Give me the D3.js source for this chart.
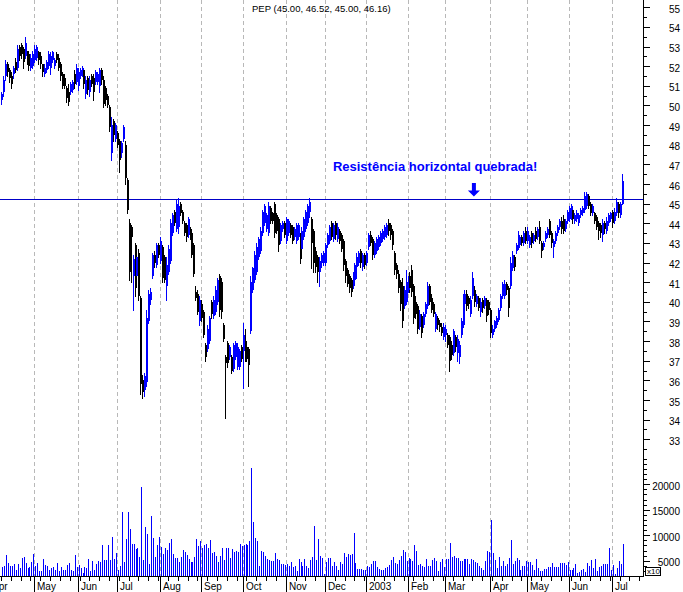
<!DOCTYPE html>
<html><head><meta charset="utf-8">
<script src="https://cdn.jsdelivr.net/npm/d3@7"></script>
<style>body{margin:0;background:#fff}svg{display:block}</style>
</head><body>
<svg id="c" width="683" height="592"></svg>
<script>
// ---------------- DATA ----------------
const ticker = "PEP";
const lastBar = ["45.00", "46.52", "45.00", "46.16"];
const annotationText = "Resistência horizontal quebrada!";
const resistance = 45.24;
const priceTicks = [33,34,35,36,37,38,39,40,41,42,43,44,45,46,47,48,49,50,51,52,53,54,55];
const volumeTicks = [5000,10000,15000,20000];
const monthLabels = ["Apr","May","Jun","Jul","Aug","Sep","Oct","Nov","Dec","2003","Feb","Mar","Apr","May","Jun","Jul"];
const monthIndex  = [-6,17,39,59,81,102,123,145,165,186,207,226,249,268,289,311];

const opens = [
50.3,50.7,51.5,52.1,51.8,51.5,51.6,52.2,51.9,53.0,
53.1,52.9,52.5,52.7,52.6,51.9,52.0,52.3,52.4,52.7,
52.5,52.1,51.6,51.8,52.0,51.9,52.3,52.0,52.6,52.4,
52.1,51.6,51.4,50.9,50.7,50.7,50.8,51.6,51.2,51.0,
51.5,51.6,51.8,50.6,51.4,50.7,51.5,51.4,51.2,51.2,
51.0,51.8,51.3,50.9,50.5,49.9,47.6,49.2,48.3,48.6,
48.2,47.6,48.3,48.0,46.2,44.0,43.8,41.3,42.9,41.3,
42.5,40.2,36.0,35.5,35.9,39.0,40.1,41.3,42.4,41.9,
42.9,42.1,42.8,42.3,40.8,41.5,42.1,43.5,44.6,43.7,
43.8,45.0,44.6,44.0,43.9,43.4,43.7,43.5,42.9,40.5,
40.4,39.0,39.9,39.5,37.8,37.6,38.0,40.0,39.3,39.5,
40.0,41.3,41.0,38.8,37.2,37.9,37.2,37.2,36.6,37.2,
36.7,36.7,37.7,37.5,38.0,37.7,37.6,38.5,40.6,41.1,
41.5,42.3,42.6,43.5,44.0,43.7,43.5,44.8,44.5,45.0,
44.4,44.2,43.1,43.7,44.0,43.1,43.5,43.9,43.8,43.3,
43.1,43.3,43.4,42.7,43.3,43.7,44.0,44.6,44.2,43.6,
42.6,42.3,41.5,42.0,42.0,42.0,42.9,43.1,44.0,43.2,
44.0,43.2,43.6,43.4,43.1,42.1,41.6,41.3,41.1,40.8,
41.1,41.8,42.0,42.6,41.8,42.4,42.0,42.8,43.4,43.2,
42.4,42.6,42.8,43.0,43.2,43.3,43.4,44.0,43.9,43.6,
42.5,41.9,41.4,41.0,40.8,39.8,40.0,40.6,41.3,41.6,
40.8,40.0,39.8,38.7,39.3,38.8,39.4,39.8,40.8,40.2,
39.9,38.6,39.2,38.9,38.7,38.2,38.3,38.3,38.2,37.8,
37.4,38.2,37.4,37.2,38.3,38.8,39.9,40.4,40.2,39.4,
40.3,40.6,39.9,40.2,39.5,40.1,39.8,40.1,40.0,39.6,
38.3,38.6,38.8,39.1,39.7,40.3,40.3,40.9,40.7,40.8,
41.7,42.3,42.6,42.8,42.9,43.3,43.0,43.6,43.1,42.9,
43.5,43.1,43.6,43.3,43.8,43.0,42.8,43.2,43.4,44.1,
43.5,42.8,43.1,43.5,43.8,44.1,44.2,43.7,44.1,44.2,
44.3,44.7,44.1,44.2,44.0,44.4,44.5,44.7,44.9,45.4,
45.0,44.5,44.5,44.3,44.0,43.9,43.4,44.0,43.6,44.0,
44.2,44.6,44.1,44.5,45.0,44.4,45.00];

const highs = [
50.7,51.5,52.3,52.2,51.9,51.7,52.0,52.4,53.1,53.1,
53.2,53.0,53.5,52.8,52.8,52.6,52.8,53.1,53.1,52.8,
52.7,52.1,52.1,52.3,52.8,52.7,52.8,52.4,52.7,52.6,
52.2,51.7,51.6,51.0,51.1,51.2,51.3,51.8,52.1,51.9,
51.9,52.0,51.9,51.5,51.5,51.5,51.6,51.6,51.8,51.7,
51.9,51.9,51.5,51.0,50.6,50.0,49.4,49.3,49.1,48.7,
48.3,48.2,49.0,48.2,46.3,44.2,43.9,42.4,43.0,42.4,
42.7,40.3,36.3,36.4,39.6,40.6,40.7,42.5,42.6,43.0,
43.0,43.3,42.9,42.4,42.3,42.9,44.2,44.5,44.7,45.2,
45.3,45.1,44.7,44.1,44.0,44.3,43.8,43.6,43.0,40.8,
40.6,40.3,40.1,39.6,37.9,38.8,39.3,40.1,40.3,40.8,
41.2,41.4,41.2,38.9,37.3,38.0,37.8,37.3,37.9,38.0,
37.9,37.6,37.8,38.9,38.6,37.8,37.7,41.3,41.8,42.6,
43.0,43.3,43.8,44.7,45.0,44.5,45.1,44.9,44.6,45.1,
44.5,44.3,44.0,44.1,44.1,44.3,44.2,44.0,43.9,43.8,
44.0,44.0,43.5,43.8,44.3,44.7,45.0,45.3,44.3,43.7,
42.8,42.4,42.3,42.5,42.6,43.0,43.5,43.9,44.1,44.0,
44.1,44.0,43.7,43.5,43.2,42.2,41.7,41.4,41.2,41.5,
42.0,42.5,42.6,42.7,42.5,42.5,42.6,43.5,43.6,43.3,
43.1,43.3,43.4,43.6,43.7,43.9,44.0,44.2,44.0,43.7,
42.6,42.0,41.6,41.1,41.2,40.8,41.6,41.3,41.5,41.9,
40.9,40.3,39.9,39.6,39.4,39.5,40.0,41.0,40.9,40.4,
40.0,39.5,39.3,39.1,38.9,38.9,38.8,38.4,38.3,38.0,
38.6,38.3,38.3,38.0,39.2,40.4,40.6,40.6,40.3,40.3,
41.5,40.8,40.4,40.3,40.2,40.2,40.3,40.2,40.1,39.7,
38.8,39.1,39.3,39.7,40.4,41.0,41.1,41.0,40.8,42.3,
42.6,42.4,43.0,43.6,43.4,43.4,43.6,43.8,43.8,43.4,
43.6,43.5,43.8,43.8,44.1,43.1,43.1,43.6,43.8,44.2,
43.6,43.2,43.6,43.9,44.2,44.3,44.4,44.2,44.7,44.9,
45.0,44.8,44.5,44.7,44.5,44.8,44.9,45.6,45.6,45.5,
45.1,45.0,44.6,44.4,44.1,44.0,44.2,44.1,44.3,44.5,
44.6,44.7,44.8,45.3,45.1,45.1,46.52];

const lows = [
50.1,50.5,51.3,51.5,51.2,50.9,51.4,51.7,51.8,52.3,
52.4,51.9,52.4,52.1,51.8,51.8,51.9,52.2,52.3,52.1,
51.9,51.5,51.5,51.7,51.9,51.6,52.2,51.9,52.2,51.8,
51.3,50.9,50.9,50.2,50.0,50.6,50.7,50.9,51.1,50.8,
51.4,51.5,50.9,50.4,50.6,50.5,51.0,50.3,51.1,51.1,
50.7,51.1,49.9,50.0,49.9,48.7,47.2,48.2,48.2,47.9,
46.6,47.4,48.2,46.0,44.5,41.1,41.0,39.6,40.3,41.2,
40.1,35.3,35.1,35.2,35.7,38.9,39.9,41.2,41.8,41.8,
42.3,42.0,41.0,41.0,40.1,41.4,42.0,43.4,43.9,43.6,
43.5,44.4,44.0,43.4,43.1,43.3,43.2,42.3,41.3,40.1,
39.4,38.8,39.0,38.2,37.0,37.5,37.9,39.2,39.2,39.4,
39.9,39.3,39.2,38.0,34.1,36.7,37.1,36.4,36.5,37.1,
36.6,36.6,37.0,35.6,37.0,37.0,35.7,38.4,40.5,41.0,
41.4,42.2,42.5,43.4,43.9,43.6,43.4,44.0,44.0,43.3,
43.5,42.6,43.0,43.6,43.3,43.0,43.4,43.3,43.0,43.2,
43.0,43.2,42.0,42.6,43.2,43.6,43.9,44.3,41.7,41.5,
41.5,41.0,40.8,41.8,41.9,41.9,42.8,43.0,43.2,43.1,
43.2,43.1,43.0,42.6,41.6,41.0,40.8,40.5,40.3,40.7,
41.0,41.2,41.9,41.8,41.6,41.7,41.9,42.7,42.9,42.2,
42.3,42.5,42.7,42.9,43.1,43.2,43.3,43.4,43.2,42.7,
41.4,41.2,40.5,39.6,38.7,39.7,39.9,40.5,40.5,40.3,
38.9,39.2,38.4,38.6,38.2,38.7,39.3,39.7,39.9,39.5,
39.3,38.5,38.6,38.5,38.3,38.1,38.0,37.7,36.5,37.1,
37.3,37.5,37.0,36.9,38.2,38.7,39.8,39.6,39.7,39.3,
40.2,39.8,39.8,39.6,39.3,39.5,39.7,39.0,39.4,38.2,
38.2,38.5,38.7,39.0,39.6,40.2,40.2,40.4,39.3,40.7,
41.6,41.6,42.5,42.7,42.8,42.9,42.9,43.0,43.0,42.8,
42.8,43.0,43.1,43.2,43.0,42.3,42.7,43.1,43.3,43.3,
42.8,42.3,43.0,43.4,43.7,43.5,43.5,43.6,44.0,44.1,
44.2,44.0,44.0,44.1,43.9,44.3,44.4,44.6,44.8,44.8,
44.4,44.4,44.0,43.7,43.2,43.3,43.1,43.5,43.5,43.9,
44.1,43.8,44.0,44.4,44.3,44.3,45.00];

const closes = [
50.6,51.3,52.1,51.7,51.4,51.1,51.9,51.8,52.9,52.5,
52.6,52.2,53.2,52.3,52.0,52.4,52.6,52.9,53.0,52.3,
52.1,51.7,51.9,52.2,52.6,52.5,52.7,52.3,52.3,51.9,
51.5,51.0,51.0,50.4,50.2,51.1,51.2,51.1,51.9,51.7,
51.8,51.9,51.1,51.3,50.8,51.3,51.1,50.7,51.7,51.6,
51.8,51.3,50.1,50.3,50.0,48.9,49.0,48.5,49.0,48.0,
47.2,48.1,48.9,46.3,44.7,41.5,43.3,42.2,40.7,42.3,
40.3,35.8,35.4,36.2,39.2,40.4,40.5,42.4,42.0,42.9,
42.4,43.1,41.2,41.1,41.9,42.7,44.0,44.4,44.0,45.0,
44.9,44.5,44.1,43.5,43.3,44.2,43.3,42.4,41.4,40.2,
39.5,40.1,39.2,38.3,37.2,38.6,39.2,39.4,40.1,40.6,
41.1,39.6,39.5,38.1,36.9,36.9,37.7,36.5,37.8,37.9,
37.7,37.5,37.1,38.3,37.2,37.1,36.8,41.0,41.7,42.4,
42.8,43.2,43.6,44.6,44.9,44.4,44.9,44.1,44.1,43.5,
43.6,42.9,43.9,44.0,43.4,44.2,44.1,43.4,43.1,43.7,
43.9,43.9,42.2,43.6,44.2,44.6,44.9,45.1,43.0,42.0,
41.8,41.5,42.1,42.4,42.5,42.9,43.4,43.8,43.3,43.9,
43.4,43.8,43.1,42.7,41.9,41.3,40.9,40.7,40.5,41.4,
41.9,42.3,42.5,42.0,42.4,41.9,42.5,43.4,43.0,42.4,
43.0,43.2,43.3,43.5,43.6,43.8,43.9,43.6,43.4,42.9,
41.6,41.4,40.7,39.9,39.0,40.6,41.0,41.2,40.7,40.5,
39.2,39.4,38.6,39.4,38.4,39.4,39.9,40.8,40.0,39.6,
39.4,39.4,38.8,38.7,38.4,38.7,38.6,37.8,37.0,37.3,
38.5,37.7,38.1,37.8,39.0,40.2,40.4,39.8,39.9,40.1,
41.2,40.0,40.3,39.7,40.0,39.7,40.2,39.3,39.6,38.4,
38.6,39.0,39.2,39.6,40.3,40.9,40.9,40.6,39.7,42.0,
42.4,41.8,42.9,43.4,43.3,43.0,43.5,43.1,43.6,43.3,
43.0,43.4,43.2,43.7,43.1,42.6,43.0,43.5,43.7,43.4,
43.0,43.1,43.5,43.8,44.1,43.7,43.6,44.1,44.6,44.8,
44.9,44.2,44.4,44.5,44.4,44.7,44.8,45.4,45.5,44.9,
44.5,44.9,44.1,43.8,43.6,43.5,44.0,43.7,44.1,44.4,
44.5,44.0,44.6,45.1,44.5,45.0,46.16];

const volumes = [
3800,4000,6100,4500,4000,4000,4400,3200,4400,3600,
5500,5800,4600,3600,3800,4700,6300,4000,4500,3000,
3000,5300,4100,3900,3200,3600,3800,3200,4500,2900,
3800,3200,3200,4200,4500,3200,3000,6100,3800,4200,
3600,2500,3700,3500,5300,3000,4900,3200,4400,4900,
4700,8100,5100,5100,8100,5100,9700,5300,6500,3200,
4000,14600,4700,9300,14600,11200,8300,8300,7300,7500,
5700,19500,5100,11600,10200,4400,13800,9500,5700,8100,
9700,7700,6300,7500,7100,8500,9300,6300,5500,5500,
4700,5700,7100,6700,6100,5300,4700,4700,5700,9300,
7900,8900,7500,8100,8300,7500,9100,6500,6700,5900,
4700,6000,7500,5100,7500,7500,5500,7300,6700,6900,
6700,8300,7900,8100,8300,8100,8900,23200,12600,9500,
8900,4000,6900,6700,5900,5300,5100,5000,5000,6500,
5300,5100,4400,4400,4200,4400,4000,4700,3800,4000,
3000,5300,4700,4000,5300,4000,3600,5100,5700,11800,
5100,9300,5900,5500,2400,4700,5500,5500,
4000,4700,4000,3200,4700,4400,6500,5700,6300,6100,
6300,10400,4500,3400,3400,3400,3200,3200,4000,3800,
4400,5000,5000,3800,3400,3200,3200,3600,3800,4200,
5100,5700,4500,4400,5100,5900,7100,6700,5000,5500,
5300,5000,8100,6900,4200,4400,4000,3800,5300,4000,
4000,5100,5500,5000,3000,4700,5300,3800,5300,5300,
8500,5700,5900,5500,5500,5000,5000,5300,5300,5300,
4400,5300,5100,4700,4500,4000,3600,3200,5000,6900,
6700,13000,6500,5100,3600,5700,4000,5000,4000,4400,
5500,9100,4400,5000,5500,5100,3200,4000,4000,5000,
4700,4700,4200,3200,5300,3600,3000,3000,3400,3400,
3800,3800,4500,3800,3800,3800,4500,4500,4500,4200,
4700,3200,3200,3600,4400,2600,2800,3200,3400,2800,
4500,4000,5100,3600,5300,3000,3800,4000,4400,4400,
4400,7500,3200,4200,2400,3600,5000,4400,8300];

// annotation anchors (bar index / price)
const annotationIndex = 169, annotationPrice = 46.66;
const arrowIndex = 240.8, arrowTop = 46.05, arrowNeck = 45.67, arrowTip = 45.37;

// ---------------- CHART ----------------
const BLUE = "#0000ff", BLACK = "#000000";
const axisX = 643, baseY = 576;
const svg = d3.select("#c");
const font = "'Liberation Sans', Arial, sans-serif";

const x = d3.scaleLinear().domain([-0.5, 326.9]).range([0, axisX]);
const yP = d3.scaleLinear().domain([33, 55]).range([439.3, 7.3]);
const yV = d3.scaleLinear().domain([5000, 20000]).range([560.7, 484.3]);
const volBase = 2000;

const data = opens.map((o, i) => ({i, o, h: highs[i], l: lows[i], c: closes[i], v: volumes[i]}));

svg.append("defs").append("clipPath").attr("id","clip")
  .append("rect").attr("x",0).attr("y",0).attr("width",axisX).attr("height",baseY);

// gridlines
svg.append("g").selectAll("line").data(monthIndex.filter(d => d >= 0)).join("line")
  .attr("x1", d => Math.round(x(d)) + 0.5).attr("x2", d => Math.round(x(d)) + 0.5)
  .attr("y1", 0).attr("y2", baseY)
  .attr("stroke", "#b8b8b8").attr("stroke-dasharray", "4,3").attr("shape-rendering","crispEdges");

const plot = svg.append("g").attr("clip-path","url(#clip)");

// resistance line
plot.append("line").attr("x1", x(-0.5)).attr("x2", axisX)
  .attr("y1", Math.round(yP(resistance)) + 0.5).attr("y2", Math.round(yP(resistance)) + 0.5)
  .attr("stroke", "#0000c8").attr("stroke-width", 1).attr("shape-rendering","crispEdges");

// candles
const cg = plot.append("g").attr("shape-rendering","crispEdges");
cg.selectAll("line").data(data).join("line")
  .attr("x1", d => Math.round(x(d.i)) + 0.5).attr("x2", d => Math.round(x(d.i)) + 0.5)
  .attr("y1", d => Math.round(yP(d.h))).attr("y2", d => Math.round(yP(d.l)) + 1)
  .attr("stroke", d => d.c >= d.o ? BLUE : BLACK);
cg.selectAll("rect").data(data).join("rect")
  .attr("x", d => Math.round(x(d.i)))
  .attr("y", d => Math.round(yP(Math.max(d.o, d.c))))
  .attr("width", 2)
  .attr("height", d => Math.max(1, Math.round(yP(Math.min(d.o, d.c))) - Math.round(yP(Math.max(d.o, d.c)))))
  .attr("fill", d => d.c >= d.o ? BLUE : BLACK);

// volume
plot.append("g").attr("shape-rendering","crispEdges").selectAll("rect").data(data).join("rect")
  .attr("x", d => Math.round(x(d.i)) + 1)
  .attr("y", d => Math.round(yV(d.v)))
  .attr("width", 1)
  .attr("height", d => Math.round(yV(volBase)) - Math.round(yV(d.v)))
  .attr("fill", BLUE);

// right axis
svg.append("line").attr("x1", axisX + 0.5).attr("x2", axisX + 0.5).attr("y1", 0).attr("y2", baseY + 1)
  .attr("stroke", "#000").attr("shape-rendering","crispEdges");

function styleAxis(g, labels) {
  g.select(".domain").remove();
  g.selectAll(".tick line").attr("stroke", "#000").attr("shape-rendering","crispEdges");
  g.selectAll("text").attr("font-family", font).attr("font-size", 10).attr("fill", "#000");
  if (labels) g.selectAll("text").attr("x", 37).attr("text-anchor", "end").attr("dy", "0.5em");
}
const gPm = svg.append("g").attr("transform", `translate(${axisX},0)`)
  .call(d3.axisRight(yP).tickValues(d3.range(32.5, 55, 1)).tickSize(4).tickFormat(""));
styleAxis(gPm, false);
const gP = svg.append("g").attr("transform", `translate(${axisX},0)`)
  .call(d3.axisRight(yP).tickValues(priceTicks).tickSize(7).tickFormat(d3.format("d")));
styleAxis(gP, true);
const gVm = svg.append("g").attr("transform", `translate(${axisX},0)`)
  .call(d3.axisRight(yV).tickValues(d3.range(3000, 25001, 1000)).tickSize(4).tickFormat(""));
styleAxis(gVm, false);
const gV = svg.append("g").attr("transform", `translate(${axisX},0)`)
  .call(d3.axisRight(yV).tickValues(volumeTicks).tickSize(7).tickFormat(d3.format("d")));
styleAxis(gV, true);

// x10 box
const bx = axisX + 2, by = Math.round(yV(3800));
svg.append("rect").attr("x", bx + 0.5).attr("y", by + 0.5).attr("width", 15).attr("height", baseY - by - 1)
  .attr("fill", "#fff").attr("stroke", "#000").attr("shape-rendering","crispEdges");
svg.append("text").attr("x", bx + 2).attr("y", baseY - 2.5).text("x10")
  .attr("font-family", font).attr("font-size", 8);

// bottom axis
svg.append("line").attr("x1", 0).attr("x2", axisX + 1).attr("y1", baseY + 0.5).attr("y2", baseY + 0.5)
  .attr("stroke", "#000").attr("shape-rendering","crispEdges");
const bottom = svg.append("g").attr("transform", `translate(0,${baseY})`);
bottom.call(d3.axisBottom(x).tickValues(d3.range(0, 327, 5)).tickSize(5).tickFormat(""));
bottom.select(".domain").remove();
bottom.selectAll(".tick line").attr("stroke","#000").attr("shape-rendering","crispEdges");
bottom.selectAll(".tick").attr("transform", d => `translate(${Math.round(x(d)) + 0.5},0)`);
const mg = svg.append("g");
mg.selectAll("line").data(monthIndex).join("line")
  .attr("x1", d => Math.round(x(d)) + 0.5).attr("x2", d => Math.round(x(d)) + 0.5)
  .attr("y1", baseY).attr("y2", 592).attr("stroke", "#000").attr("shape-rendering","crispEdges");
mg.selectAll("text").data(monthLabels).join("text")
  .attr("x", (d, k) => Math.round(x(monthIndex[k])) + 3).attr("y", 589.5)
  .attr("font-family", font).attr("font-size", 10).text(d => d);

// title
svg.append("text").attr("x", 252).attr("y", 12)
  .attr("font-family", font).attr("font-size", 9.5)
  .text(`${ticker} (${lastBar.join(", ")})`);

// annotation
svg.append("text").attr("x", x(annotationIndex)).attr("y", yP(annotationPrice))
  .attr("font-family", font).attr("font-size", 13).attr("font-weight", "bold").attr("fill", BLUE)
  .text(annotationText);
const ax = x(arrowIndex);
svg.append("path")
  .attr("d", `M${ax-2},${yP(arrowTop)}L${ax+2},${yP(arrowTop)}L${ax+2},${yP(arrowNeck)}L${ax+6},${yP(arrowNeck)}L${ax},${yP(arrowTip)}L${ax-6},${yP(arrowNeck)}L${ax-2},${yP(arrowNeck)}Z`)
  .attr("fill", BLUE);
</script>
</body></html>
